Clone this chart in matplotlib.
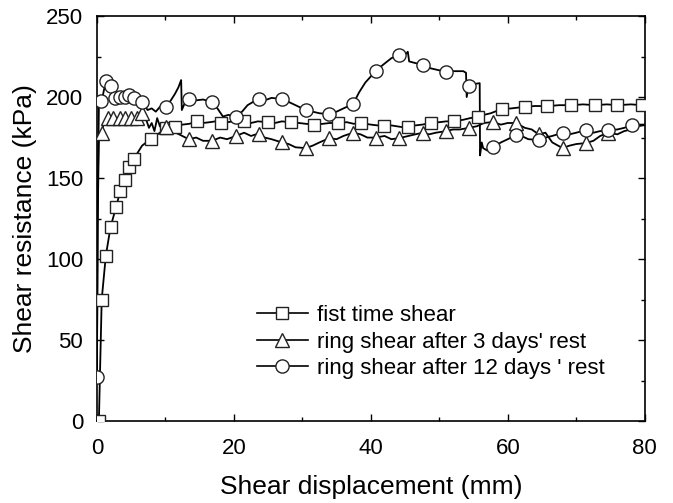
import matplotlib
matplotlib.use("Agg")
import matplotlib.pyplot as plt
from matplotlib.lines import Line2D

plt.rcParams['font.family'] = ['Liberation Sans', 'DejaVu Sans']

labels = ["fist time shear", "ring shear after 3 days' rest", "ring shear after 12 days ' rest"]

# fist time shear: raw curve and marked points
sq_line_x = [0, 0.3, 0.7, 1.3, 2.0, 2.8, 3.4, 4.1, 4.7, 5.4, 6.0, 6.6, 7.2, 7.9, 8.5, 9.2, 10.1, 11.0,
             11.4, 12.5, 13.5, 14.6, 15.5, 16.5, 17.3, 18.1, 19.0, 20.0, 21.5, 22.5, 23.5, 25.0, 26.0,
             27.0, 28.3, 29.5, 30.5, 31.7, 33.0, 34.0, 35.2, 36.5, 37.5, 38.5, 40.0, 41.0, 41.9, 43.0,
             44.5, 45.4, 46.5, 47.5, 48.8, 50.0, 51.0, 52.1, 53.5, 54.5, 55.6, 56.5, 57.5, 59.1, 60.5,
             61.5, 62.5, 64.0, 65.8, 67.5, 69.3, 71.0, 72.7, 74.5, 76.0, 78.0, 79.6, 80]
sq_line_y = [0, 2, 75, 102, 120, 132, 142, 149, 157, 162, 166, 170, 172, 174, 176, 178, 181, 180,
             181.5, 183, 183.5, 185, 184, 184.5, 185, 184, 184.5, 185, 185, 184, 185, 184.5, 184,
             185, 184.5, 184, 183.5, 183, 183.5, 184, 184, 184.5, 183.5, 184, 183, 182.5, 182, 182.5,
             181.5, 181.5, 182.5, 183, 184, 184.5, 185, 185, 186, 187, 188, 189, 190, 192.6, 193,
             193.5, 194, 194.5, 194.4, 195, 195, 195.5, 195, 195.5, 195, 195.5, 195, 195.5]
sq_x = [0.3, 0.7, 1.3, 2.0, 2.8, 3.4, 4.1, 4.7, 5.4, 7.9, 10.1, 11.4, 14.6, 18.1, 21.5, 25.0, 28.3,
        31.7, 35.2, 38.5, 41.9, 45.4, 48.8, 52.1, 55.6, 59.1, 62.5, 65.8, 69.3, 72.7, 76.0, 79.6]
sq_y = [0, 75, 102, 120, 132, 142, 149, 157, 162, 174, 181, 181.5, 185, 184, 185, 184.5, 184.5,
        183, 184, 184, 182, 181.5, 184, 185, 188, 192.6, 194, 194.4, 195, 195, 195, 195]

# ring shear after 3 days' rest
tri_line_x = [0, 0.1, 0.3, 0.7, 1.0, 1.6, 2.4, 3.3, 4.1, 5.0, 5.8, 6.6, 7.2, 7.6, 8.0, 8.4, 8.8, 9.2,
              9.6, 10.1, 11.0, 12.0, 13.4, 14.5, 15.5, 16.8, 18.0, 19.0, 20.3, 21.5, 22.5, 23.6, 24.5,
              25.5, 27.0, 28.0, 29.0, 30.5, 31.5, 32.5, 33.9, 35.0, 36.0, 37.4, 38.5, 39.5, 40.7, 42.0,
              43.0, 44.1, 45.5, 46.5, 47.6, 48.5, 49.5, 51.0, 52.0, 53.0, 54.3, 55.5, 56.5, 57.8, 59.0,
              60.0, 61.2, 62.5, 63.5, 64.5, 65.5, 66.5, 68.0, 69.0, 70.0, 71.4, 72.5, 73.5, 74.7, 76.0,
              77.0, 78.0, 79.0, 80]
tri_line_y = [30, 120, 178, 178, 184, 187, 187, 187, 187, 187, 187, 190, 186, 181, 184, 179, 187, 182,
              180, 181.5, 179, 177, 174, 175, 173, 173, 175, 174, 176, 178, 176, 177.5, 175,
              174, 172, 171, 169, 168.5, 170, 172, 174.6, 174, 176, 178, 177, 175, 175, 176,
              174, 174.6, 176, 177, 178, 177, 178, 179, 180, 180, 181, 182, 184, 184.6, 183,
              184, 184, 181, 180, 177, 178, 172, 168.5, 170, 171, 171.6, 173, 176, 178, 177,
              179, 180, 182, 182.7]
tri_x = [0.7, 1.6, 2.4, 3.3, 4.1, 5.0, 5.8, 6.6, 10.1, 13.4, 16.8, 20.3, 23.6, 27.0, 30.5, 33.9,
         37.4, 40.7, 44.1, 47.6, 51.0, 54.3, 57.8, 61.2, 64.5, 68.0, 71.4, 74.7]
tri_y = [178, 187, 187, 187, 187, 187, 187, 190, 181.5, 174, 173, 176, 177.5, 172, 168.5, 174.6,
         178, 175, 174.6, 178, 179, 181, 184.6, 184, 177, 168.5, 171.6, 178]

# ring shear after 12 days ' rest
cir_line_x = [0, 0.15, 0.3, 0.7, 1.3, 2.0, 2.6, 3.4, 4.1, 4.7, 5.4, 6.0, 6.6, 7.4, 8.0, 8.6, 9.2,
              10.1, 10.8, 11.4, 11.9, 12.3, 12.4, 12.8, 13.4, 14.5, 15.5, 16.8, 17.6, 18.4, 19.2,
              20.3, 21.2, 22.0, 23.6, 24.5, 25.5, 27.0, 28.0, 29.0, 30.5, 31.5, 32.5, 33.9, 35.0,
              36.0, 37.4, 38.3, 39.2, 40.7, 41.8, 43.0, 44.1, 45.0, 45.4, 45.6, 46.5, 47.6, 48.5,
              49.5, 51.0, 52.0, 53.5, 53.9, 54.0, 54.3, 55.0, 55.9, 55.95, 56.2, 56.4, 57.0, 57.8,
              59.0, 60.0, 61.2, 62.0, 63.0, 64.5, 65.5, 66.5, 68.0, 69.0, 70.0, 71.4, 72.5, 73.5,
              74.7, 76.0, 77.0, 78.2, 79.0, 80]
cir_line_y = [27, 150, 197, 197.5, 210, 207, 199.5, 200, 200, 201, 199.5, 198, 197, 192, 193, 191, 194,
              194, 198, 202, 206, 210.5, 192, 196, 199, 198, 198.5, 197, 193, 188, 189,
              188, 191, 195, 199, 198, 199.5, 198.8, 197, 195, 192, 191, 190, 189.5, 191,
              193, 195.7, 203, 209, 216, 220, 224, 226, 226, 228, 222, 221, 220, 218,
              217, 215.6, 216, 216, 215, 200, 207, 208, 208.6, 164, 172, 168.5, 167, 169,
              172, 174, 176.5, 176, 174, 173.5, 175, 176, 178, 177, 178, 179.6, 178, 179,
              179.6, 180, 181, 182.7, 183, 183]
cir_x = [0, 0.6, 1.3, 2.0, 2.6, 3.4, 4.1, 4.7, 5.4, 6.6, 10.1, 13.4, 16.8, 20.3, 23.6, 27.0, 30.5,
         33.9, 37.4, 40.7, 44.1, 47.6, 51.0, 54.3, 57.8, 61.2, 64.5, 68.0, 71.4, 74.7, 78.2]
cir_y = [27, 197.5, 210, 207, 199.5, 200, 200, 201, 199.5, 197, 194, 199, 197, 188, 199, 198.8, 192,
         189.5, 195.7, 216, 226, 220, 215.6, 207, 169, 176.5, 173.5, 178, 179.6, 179.6, 182.7]

x_ticks = [0, 20, 40, 60, 80]
y_ticks = [0, 50, 100, 150, 200, 250]

fig = plt.figure(figsize=(6.73, 5.03), dpi=100)
ax = fig.add_axes([0.144, 0.163, 0.814, 0.805])

edge = '#222222'
series = [
    (sq_line_x, sq_line_y, sq_x, sq_y, 's', 8),
    (tri_line_x, tri_line_y, tri_x, tri_y, '^', 9.5),
    (cir_line_x, cir_line_y, cir_x, cir_y, 'o', 9.5),
]
handles = []
for lx, ly, mx, my, mk, ms in series:
    ax.plot(lx, ly, color='black', lw=1.3, zorder=2)
    ax.plot(mx, my, ls='none', marker=mk, ms=ms, mfc='white', mec=edge, mew=1.0, zorder=3)
    handles.append(Line2D([], [], color='black', lw=1.2, marker=mk, ms=ms,
                          mfc='white', mec=edge, mew=1.0))

ax.set_xlim(0, 80)
ax.set_ylim(0, 250)
ax.set_xticks(x_ticks)
ax.set_yticks(y_ticks)
ax.set_xticks([10, 30, 50, 70], minor=True)
ax.set_yticks([25, 75, 125, 175, 225], minor=True)
ax.tick_params(which='both', direction='in', top=True, right=True, width=1.0)
ax.tick_params(which='major', length=5)
ax.tick_params(which='minor', length=3)
ax.tick_params(axis='x', labelsize=16, pad=12)
ax.tick_params(axis='y', labelsize=16, pad=10)
for s in ax.spines.values():
    s.set_linewidth(1.2)

ax.set_xlabel("Shear displacement (mm)", fontsize=19, labelpad=12)
ax.set_ylabel("Shear resistance (kPa)", fontsize=19, labelpad=6)

ax.legend(handles, labels, loc='center left', bbox_to_anchor=(0.292, 0.195),
          frameon=False, fontsize=16, handlelength=2.3, handletextpad=0.4,
          labelspacing=0.25, borderpad=0, borderaxespad=0)

fig.savefig("out.png", dpi=100)
